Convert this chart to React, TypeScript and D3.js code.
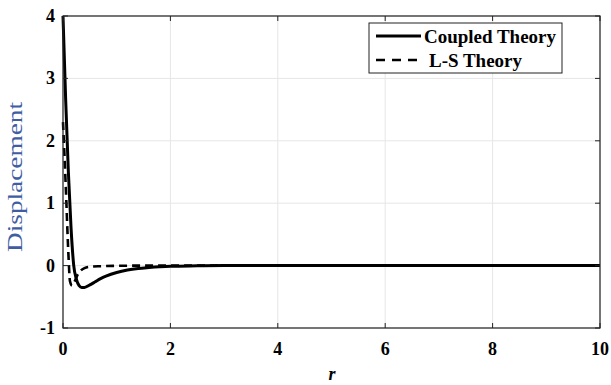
import * as d3 from "d3"

const rValues = [0, 0.05, 0.1, 0.15, 0.2, 0.25, 0.3, 0.35, 0.4, 0.5, 0.6, 0.7, 0.8, 1.0, 1.2, 1.4, 1.6, 1.8, 2.0, 2.5, 3, 4, 5, 6, 7, 8, 9, 10]
const coupled = [4.0, 2.65, 1.5, 0.6, 0.0, -0.22, -0.32, -0.35, -0.35, -0.31, -0.26, -0.21, -0.17, -0.11, -0.07, -0.045, -0.03, -0.018, -0.01, -0.004, 0, 0, 0, 0, 0, 0, 0, 0]
const lsR = [0, 0.05, 0.1, 0.13, 0.17, 0.22, 0.27, 0.33, 0.4, 0.5, 0.7, 1.0, 1.5, 2, 3, 4, 5, 6, 7, 8, 9, 10]
const lsTheory = [2.3, 1.3, 0.2, -0.25, -0.32, -0.25, -0.15, -0.08, -0.04, -0.02, -0.01, -0.004, 0, 0, 0, 0, 0, 0, 0, 0, 0, 0]
const xTicks = [0, 2, 4, 6, 8, 10]
const yTicks = [-1, 0, 1, 2, 3, 4]
const legendLabels = ["Coupled Theory", "L-S Theory"]

const W = 611
const H = 385
const serif = "Liberation Serif, DejaVu Serif, serif"

export default function App() {
  const x = d3.scaleLinear().domain([0, 10]).range([63, 600])
  const y = d3.scaleLinear().domain([-1, 4]).range([328, 16])

  const line = d3
    .line<[number, number]>()
    .x((d) => x(d[0]))
    .y((d) => y(d[1]))
    .curve(d3.curveMonotoneX)

  const coupledPath = line(rValues.map((r, i) => [r, coupled[i]]) as [number, number][]) || ""
  const lsPath = line(lsR.map((r, i) => [r, lsTheory[i]]) as [number, number][]) || ""

  const [x0, x1] = x.range()
  const [y0, y1] = y.range()
  const tick = 5

  return (
    <svg width={W} height={H} style={{ position: "absolute", left: 0, top: 0, background: "#fff", fontFamily: serif }}>
      <rect x={0} y={0} width={W} height={H} fill="#fff" />
      {/* grid */}
      {xTicks.map((t) => (
        <line key={"gx" + t} x1={x(t)} x2={x(t)} y1={y1} y2={y0} stroke="#e6e6e6" strokeWidth={1} />
      ))}
      {yTicks.map((t) => (
        <line key={"gy" + t} x1={x0} x2={x1} y1={y(t)} y2={y(t)} stroke="#e6e6e6" strokeWidth={1} />
      ))}

      {/* curves */}
      <path d={lsPath} fill="none" stroke="#000" strokeWidth={2.6} strokeDasharray="8,5" />
      <path d={coupledPath} fill="none" stroke="#000" strokeWidth={3} />

      {/* box + ticks */}
      <rect x={x0} y={y1} width={x1 - x0} height={y0 - y1} fill="none" stroke="#222" strokeWidth={1.2} />
      {xTicks.map((t) => (
        <g key={"tx" + t}>
          <line x1={x(t)} x2={x(t)} y1={y0} y2={y0 - tick} stroke="#222" />
          <line x1={x(t)} x2={x(t)} y1={y1} y2={y1 + tick} stroke="#222" />
          <text x={x(t)} y={355} textAnchor="middle" fontWeight="bold" fontSize={18}>
            {t}
          </text>
        </g>
      ))}
      {yTicks.map((t) => (
        <g key={"ty" + t}>
          <line x1={x0} x2={x0 + tick} y1={y(t)} y2={y(t)} stroke="#222" />
          <line x1={x1} x2={x1 - tick} y1={y(t)} y2={y(t)} stroke="#222" />
          <text x={55} y={y(t) + 6} textAnchor="end" fontWeight="bold" fontSize={18}>
            {t < 0 ? "-" + Math.abs(t) : t}
          </text>
        </g>
      ))}

      {/* axis labels */}
      <text
        transform={`translate(22,177) rotate(-90)`}
        textAnchor="middle"
        fontSize={21}
        fill="#3f5da3"
        textLength={150}
        lengthAdjust="spacingAndGlyphs"
      >
        Displacement
      </text>
      <text x={332} y={380} textAnchor="middle" fontWeight="bold" fontStyle="italic" fontSize={18}>
        r
      </text>

      {/* legend */}
      <rect x={369} y={23} width={193} height={50} fill="#fff" stroke="#222" strokeWidth={1} />
      <line x1={376} x2={421} y1={36} y2={36} stroke="#000" strokeWidth={3} />
      <line x1={376} x2={421} y1={60} y2={60} stroke="#000" strokeWidth={2.6} strokeDasharray="9,7" />
      <text x={424} y={43} fontWeight="bold" fontSize={19} textLength={132} lengthAdjust="spacingAndGlyphs">
        {legendLabels[0]}
      </text>
      <text x={429} y={67} fontWeight="bold" fontSize={19} textLength={93} lengthAdjust="spacingAndGlyphs">
        {legendLabels[1]}
      </text>
    </svg>
  )
}
